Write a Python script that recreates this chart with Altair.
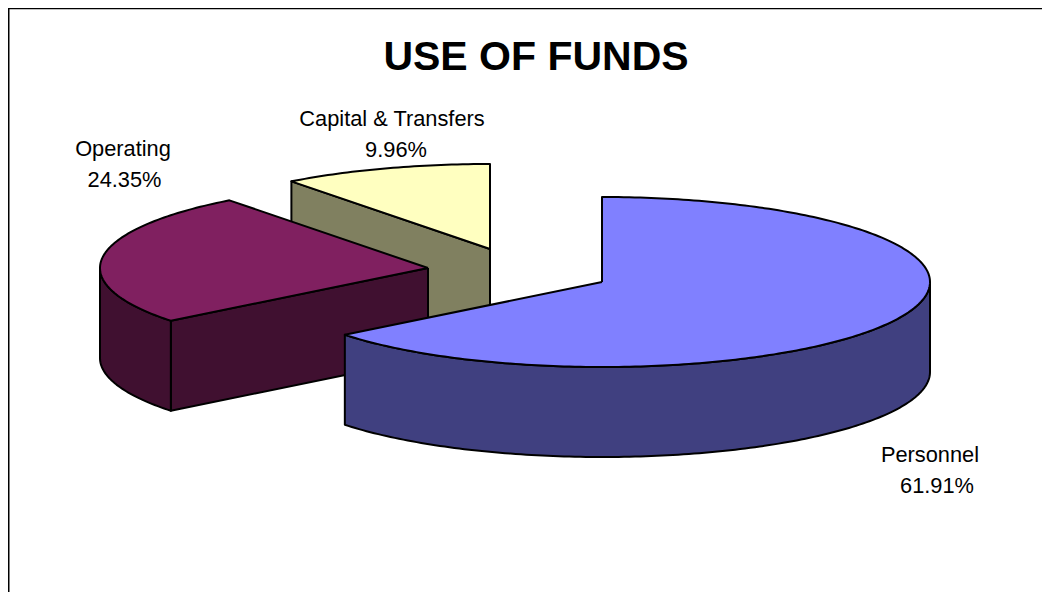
import math
import altair as alt
import pandas as pd

categories = ["Personnel", "Operating", "Capital & Transfers"]
shares = [61.91, 24.35, 9.96]
share_labels = ["61.91%", "24.35%", "9.96%"]
title_text = "USE OF FUNDS"

top_colors = ["#8080FF", "#802060", "#FFFFC0"]
side_colors = ["#404080", "#401030", "#808060"]

# layout (page pixels): exploded slice centres, ellipse radii, extrusion depth
CENTRES = [(602, 282), (428, 268), (490, 249)]
RX, RY, DEPTH = 328, 85, 90
W, H = 1034, 584
FONT = "Liberation Sans"

xs = alt.Scale(domain=[8, 8 + W], range=[0, W], nice=False, zero=False)
ys = alt.Scale(domain=[8, 8 + H], range=[0, H], nice=False, zero=False)


def rim(c, a, depth=0):
    return (c[0] + RX * math.sin(a), c[1] - RY * math.cos(a) + depth)


def poly(points, fill):
    pts = list(points) + [points[0]]
    df = pd.DataFrame({"x": [p[0] for p in pts], "y": [p[1] for p in pts], "i": range(len(pts))})
    return (
        alt.Chart(df)
        .mark_line(fill=fill, stroke="#000000", strokeWidth=2, strokeJoin="round", interpolate="linear")
        .encode(
            x=alt.X("x:Q", scale=xs, axis=None),
            y=alt.Y("y:Q", scale=ys, axis=None),
            order="i:Q",
        )
    )


def arc(c, a0, a1, depth=0):
    n = max(2, int(abs(a1 - a0) * 60))
    return [rim(c, a0 + (a1 - a0) * k / n, depth) for k in range(n + 1)]


total = sum(shares)
bounds = [0.0]
for s in shares:
    bounds.append(bounds[-1] + s / total * 2 * math.pi)

layers = []
for i in [2, 1, 0]:
    c, a0, a1 = CENTRES[i], bounds[i], bounds[i + 1]
    # cut face on the leading edge, visible when that edge lies left of the centre and the wedge sits above it
    if i > 0:
        p = rim(c, a0)
        layers.append(poly([c, p, (p[0], p[1] + DEPTH), (c[0], c[1] + DEPTH)], side_colors[i]))
    # outer wall on the front half of the ellipse
    f0, f1 = max(a0, math.pi / 2), min(a1, 3 * math.pi / 2)
    if f1 > f0:
        layers.append(poly(arc(c, f0, f1) + arc(c, f1, f0, DEPTH), side_colors[i]))
    layers.append(poly([c] + arc(c, a0, a1), top_colors[i]))

# frame: top and left only reach the picture
frame = pd.DataFrame({"x": [8.75, 8.75, 8 + W], "y": [8 + H, 8.5, 8.5], "i": [0, 1, 2]})
layers.append(
    alt.Chart(frame)
    .mark_line(stroke="#000000", strokeWidth=1.5)
    .encode(x=alt.X("x:Q", scale=xs, axis=None), y=alt.Y("y:Q", scale=ys, axis=None), order="i:Q")
)

texts = (
    [(title_text, 536, 58, 41, "bold")]
    + [(categories[0], 930, 455, 21.8, "normal"), (share_labels[0], 937, 486, 21.8, "normal")]
    + [(categories[1], 123, 149, 21.8, "normal"), (share_labels[1], 124.5, 180, 21.8, "normal")]
    + [(categories[2], 392, 119, 21.8, "normal"), (share_labels[2], 396, 150, 21.8, "normal")]
)
for t, x, y, size, weight in texts:
    df = pd.DataFrame({"x": [x], "y": [y], "t": [t]})
    layers.append(
        alt.Chart(df)
        .mark_text(font=FONT, fontSize=size, fontWeight=weight, color="#000000", align="center", baseline="middle")
        .encode(
            x=alt.X("x:Q", scale=xs, axis=None),
            y=alt.Y("y:Q", scale=ys, axis=None),
            text="t:N",
        )
    )

chart = (
    alt.layer(*layers)
    .properties(width=W, height=H, padding=0, autosize=alt.AutoSizeParams(type="none"), background="#FFFFFF")
    .configure_view(stroke=None)
)
chart.save("out.html", embed_options={"renderer": "svg", "actions": False})
